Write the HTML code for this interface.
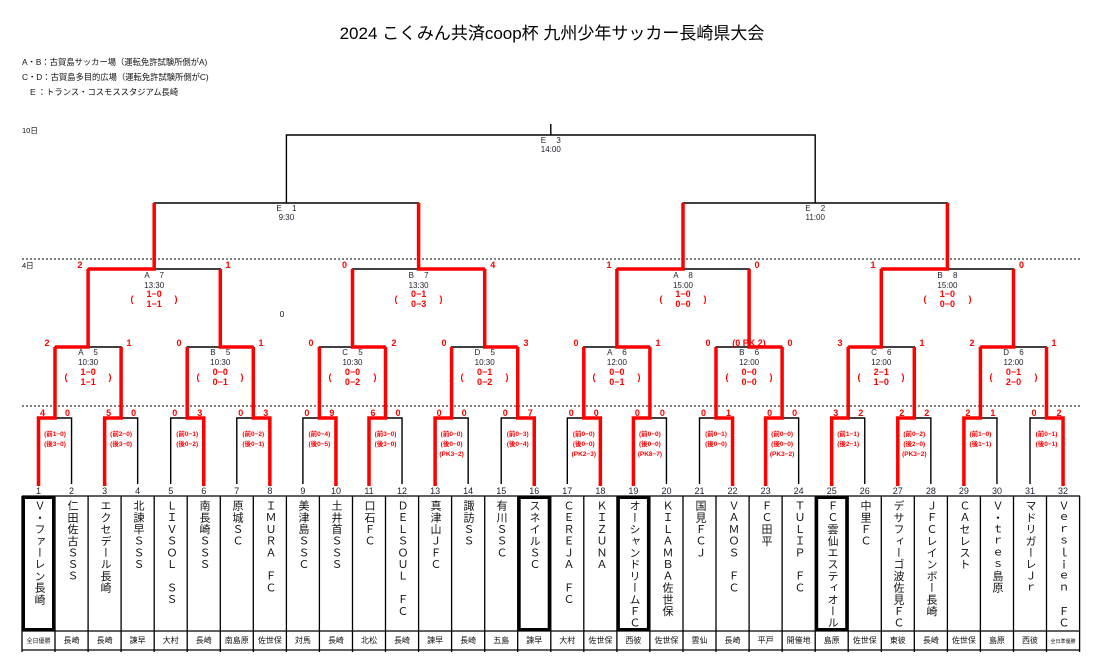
<!DOCTYPE html>
<html><head><meta charset="utf-8"><style>
body{margin:0;background:#fff;}
#w{position:relative;width:1095px;height:669px;overflow:hidden;font-family:"Liberation Sans","Noto Sans CJK JP",sans-serif;}
svg{position:absolute;left:0;top:0;}
.n{position:absolute;top:500px;width:33px;height:130px;writing-mode:vertical-rl;text-orientation:upright;line-height:33px;font-size:11px;letter-spacing:0.7px;color:#111;font-family:"Liberation Sans","Noto Sans CJK JP",sans-serif;}
.s{fill:#f00;font-weight:bold;font-size:9px;text-anchor:middle;}
.p{fill:#f00;font-weight:bold;font-size:6.5px;text-anchor:middle;}
.l{fill:#223;font-size:8px;text-anchor:middle;}
.t{fill:#223;font-size:9px;text-anchor:middle;}
.r{fill:#111;font-size:8px;text-anchor:middle;}
</style></head><body><div id="w">
<svg width="1095" height="669" font-family="Liberation Sans, Noto Sans CJK JP, sans-serif">
<text x="552" y="39" font-size="17" text-anchor="middle" fill="#000">2024  こくみん共済coop杯  九州少年サッカー長崎県大会</text>
<text x="22" y="65" font-size="8.3" fill="#111">A・B：古賀島サッカー場（運転免許試験所側がA)</text>
<text x="22" y="80" font-size="8.3" fill="#111">C・D：古賀島多目的広場（運転免許試験所側がC)</text>
<text x="30" y="95" font-size="8.3" fill="#111">E ：トランス・コスモススタジアム長崎</text>
<text x="22" y="133" font-size="7.5" fill="#111">10日</text>
<text x="22" y="268" font-size="7.5" fill="#111">4日</text>
<text x="282" y="317" font-size="8" fill="#111" text-anchor="middle">0</text>
<line x1="22" y1="259" x2="1080" y2="259" stroke="#000" stroke-width="1" stroke-dasharray="2,2"/>
<line x1="22" y1="406" x2="1080" y2="406" stroke="#000" stroke-width="1" stroke-dasharray="2,2"/>
<g fill="none" stroke="#000" stroke-width="1.4">
<path d="M38.5 484V418H71.55V484M104.6 484V418H137.65V484M170.7 484V418H203.75V484M236.8 484V418H269.85V484M302.9 484V418H335.95V484M369 484V418H402.05V484M435.1 484V418H468.15V484M501.2 484V418H534.25V484M567.3 484V418H600.35V484M633.4 484V418H666.45V484M699.5 484V418H732.55V484M765.6 484V418H798.65V484M831.7 484V418H864.75V484M897.8 484V418H930.85V484M963.9 484V418H996.95V484M1030 484V418H1063.05V484"/>
<path d="M55 418V347H121.1V418M187.2 418V347H253.3V418M319.4 418V347H385.5V418M451.6 418V347H517.7V418M583.8 418V347H649.9V418M716 418V347H782.1V418M848.2 418V347H914.3V418M980.4 418V347H1046.5V418"/>
<path d="M88.1 347V269H220.3V347M352.5 347V269H484.7V347M616.9 347V269H749.1V347M881.3 347V269H1013.5V347"/>
<path d="M154.2 269V203H418.6V269M683 269V203H947.4V269"/>
<path d="M286.4 203V135H815.2V203M550.8 135V124"/>
</g>
<g fill="none" stroke="#f00" stroke-width="3.5">
<path d="M38.5 486V418H55V347M104.6 486V418H121.1V347M203.75 486V418H187.2V347M269.85 486V418H253.3V347M335.95 486V418H319.4V347M369 486V418H385.5V347M435.1 486V418H451.6V347M534.25 486V418H517.7V347M600.35 486V418H583.8V347M633.4 486V418H649.9V347M732.55 486V418H716V347M765.6 486V418H782.1V347M831.7 486V418H848.2V347M897.8 486V418H914.3V347M963.9 486V418H980.4V347M1063.05 486V418H1046.5V347"/>
<path d="M55 347H88.1V269M253.3 347H220.3V269M385.5 347H352.5V269M517.7 347H484.7V269M649.9 347H616.9V269M782.1 347H749.1V269M848.2 347H881.3V269M980.4 347H1013.5V269"/>
<path d="M88.1 269H154.2V203M484.7 269H418.6V203M616.9 269H683V203M881.3 269H947.4V203"/>
</g>
<g stroke="#000" stroke-width="1.3">
<line x1="22" y1="496" x2="1080" y2="496"/><line x1="22" y1="631" x2="1080" y2="631"/><line x1="22" y1="650" x2="1080" y2="650"/>
<path d="M22 496V652M55 496V652M88.1 496V652M121.1 496V652M154.2 496V652M187.2 496V652M220.3 496V652M253.3 496V652M286.4 496V652M319.4 496V652M352.5 496V652M385.5 496V652M418.6 496V652M451.6 496V652M484.7 496V652M517.7 496V652M550.8 496V652M583.8 496V652M616.9 496V652M649.9 496V652M683 496V652M716 496V652M749.1 496V652M782.1 496V652M815.2 496V652M848.2 496V652M881.3 496V652M914.3 496V652M947.4 496V652M980.4 496V652M1013.5 496V652M1046.5 496V652M1079.6 496V652"/>
</g>
<g fill="none" stroke="#000" stroke-width="3">
<rect x="23.5" y="497.5" width="30" height="132"/><rect x="519.2" y="497.5" width="30" height="132"/><rect x="618.4" y="497.5" width="30" height="132"/><rect x="816.7" y="497.5" width="30" height="132"/>
</g>
<g>
<text x="38.5" y="494" class="t">1</text><text x="71.55" y="494" class="t">2</text><text x="104.6" y="494" class="t">3</text><text x="137.65" y="494" class="t">4</text><text x="170.7" y="494" class="t">5</text><text x="203.75" y="494" class="t">6</text><text x="236.8" y="494" class="t">7</text><text x="269.85" y="494" class="t">8</text><text x="302.9" y="494" class="t">9</text><text x="335.95" y="494" class="t">10</text><text x="369" y="494" class="t">11</text><text x="402.05" y="494" class="t">12</text><text x="435.1" y="494" class="t">13</text><text x="468.15" y="494" class="t">14</text><text x="501.2" y="494" class="t">15</text><text x="534.25" y="494" class="t">16</text><text x="567.3" y="494" class="t">17</text><text x="600.35" y="494" class="t">18</text><text x="633.4" y="494" class="t">19</text><text x="666.45" y="494" class="t">20</text><text x="699.5" y="494" class="t">21</text><text x="732.55" y="494" class="t">22</text><text x="765.6" y="494" class="t">23</text><text x="798.65" y="494" class="t">24</text><text x="831.7" y="494" class="t">25</text><text x="864.75" y="494" class="t">26</text><text x="897.8" y="494" class="t">27</text><text x="930.85" y="494" class="t">28</text><text x="963.9" y="494" class="t">29</text><text x="996.95" y="494" class="t">30</text><text x="1030" y="494" class="t">31</text><text x="1063.05" y="494" class="t">32</text>
</g>
<g>
<text x="38.5" y="643" class="r" style="font-size:6px">全日優勝</text><text x="71.55" y="643" class="r">長崎</text><text x="104.6" y="643" class="r">長崎</text><text x="137.65" y="643" class="r">諫早</text><text x="170.7" y="643" class="r">大村</text><text x="203.75" y="643" class="r">長崎</text><text x="236.8" y="643" class="r">南島原</text><text x="269.85" y="643" class="r">佐世保</text><text x="302.9" y="643" class="r">対馬</text><text x="335.95" y="643" class="r">長崎</text><text x="369" y="643" class="r">北松</text><text x="402.05" y="643" class="r">長崎</text><text x="435.1" y="643" class="r">諫早</text><text x="468.15" y="643" class="r">長崎</text><text x="501.2" y="643" class="r">五島</text><text x="534.25" y="643" class="r">諫早</text><text x="567.3" y="643" class="r">大村</text><text x="600.35" y="643" class="r">佐世保</text><text x="633.4" y="643" class="r">西彼</text><text x="666.45" y="643" class="r">佐世保</text><text x="699.5" y="643" class="r">雲仙</text><text x="732.55" y="643" class="r">長崎</text><text x="765.6" y="643" class="r">平戸</text><text x="798.65" y="643" class="r">開催地</text><text x="831.7" y="643" class="r">島原</text><text x="864.75" y="643" class="r">佐世保</text><text x="897.8" y="643" class="r">東彼</text><text x="930.85" y="643" class="r">長崎</text><text x="963.9" y="643" class="r">佐世保</text><text x="996.95" y="643" class="r">島原</text><text x="1030" y="643" class="r">西彼</text><text x="1063.05" y="643" class="r" style="font-size:5px">全日準優勝</text>
</g>
<g>
<text x="42.5" y="416" class="s">4</text><text x="67.5" y="416" class="s">0</text>
<text x="108.6" y="416" class="s">5</text><text x="133.6" y="416" class="s">0</text>
<text x="174.7" y="416" class="s">0</text><text x="199.7" y="416" class="s">3</text>
<text x="240.8" y="416" class="s">0</text><text x="265.8" y="416" class="s">3</text>
<text x="306.9" y="416" class="s">0</text><text x="331.9" y="416" class="s">9</text>
<text x="373" y="416" class="s">6</text><text x="398" y="416" class="s">0</text>
<text x="439.1" y="416" class="s">0</text><text x="464.1" y="416" class="s">0</text>
<text x="505.2" y="416" class="s">0</text><text x="530.2" y="416" class="s">7</text>
<text x="571.3" y="416" class="s">0</text><text x="596.3" y="416" class="s">0</text>
<text x="637.4" y="416" class="s">0</text><text x="662.4" y="416" class="s">0</text>
<text x="703.5" y="416" class="s">0</text><text x="728.5" y="416" class="s">1</text>
<text x="769.6" y="416" class="s">0</text><text x="794.6" y="416" class="s">0</text>
<text x="835.7" y="416" class="s">3</text><text x="860.7" y="416" class="s">2</text>
<text x="901.8" y="416" class="s">2</text><text x="926.8" y="416" class="s">2</text>
<text x="967.9" y="416" class="s">2</text><text x="992.9" y="416" class="s">1</text>
<text x="1034" y="416" class="s">0</text><text x="1059" y="416" class="s">2</text>
</g>
<g>
<text x="55" y="436" class="p">(前1−0)</text><text x="55" y="446" class="p">(後3−0)</text>
<text x="121.1" y="436" class="p">(前2−0)</text><text x="121.1" y="446" class="p">(後3−0)</text>
<text x="187.2" y="436" class="p">(前0−1)</text><text x="187.2" y="446" class="p">(後0−2)</text>
<text x="253.3" y="436" class="p">(前0−2)</text><text x="253.3" y="446" class="p">(後0−1)</text>
<text x="319.4" y="436" class="p">(前0−4)</text><text x="319.4" y="446" class="p">(後0−5)</text>
<text x="385.5" y="436" class="p">(前3−0)</text><text x="385.5" y="446" class="p">(後3−0)</text>
<text x="451.6" y="436" class="p">(前0−0)</text><text x="451.6" y="446" class="p">(後0−0)</text><text x="451.6" y="456" class="p">(PK3−2)</text>
<text x="517.7" y="436" class="p">(前0−3)</text><text x="517.7" y="446" class="p">(後0−4)</text>
<text x="583.8" y="436" class="p">(前0−0)</text><text x="583.8" y="446" class="p">(後0−0)</text><text x="583.8" y="456" class="p">(PK2−3)</text>
<text x="649.9" y="436" class="p">(前0−0)</text><text x="649.9" y="446" class="p">(後0−0)</text><text x="649.9" y="456" class="p">(PK8−7)</text>
<text x="716" y="436" class="p">(前0−1)</text><text x="716" y="446" class="p">(後0−0)</text>
<text x="782.1" y="436" class="p">(前0−0)</text><text x="782.1" y="446" class="p">(後0−0)</text><text x="782.1" y="456" class="p">(PK3−2)</text>
<text x="848.2" y="436" class="p">(前1−1)</text><text x="848.2" y="446" class="p">(後2−1)</text>
<text x="914.3" y="436" class="p">(前0−2)</text><text x="914.3" y="446" class="p">(後2−0)</text><text x="914.3" y="456" class="p">(PK3−2)</text>
<text x="980.4" y="436" class="p">(前1−0)</text><text x="980.4" y="446" class="p">(後1−1)</text>
<text x="1046.5" y="436" class="p">(前0−1)</text><text x="1046.5" y="446" class="p">(後0−1)</text>
</g>
<g>
<text x="47" y="346" class="s">2</text><text x="129" y="346" class="s">1</text>
<text x="179" y="346" class="s">0</text><text x="261" y="346" class="s">1</text>
<text x="311" y="346" class="s">0</text><text x="394" y="346" class="s">2</text>
<text x="444" y="346" class="s">0</text><text x="526" y="346" class="s">3</text>
<text x="576" y="346" class="s">0</text><text x="658" y="346" class="s">1</text>
<text x="708" y="346" class="s">0</text><text x="790" y="346" class="s">0</text><text x="749" y="346" class="s">(0 PK 2)</text>
<text x="840" y="346" class="s">3</text><text x="922" y="346" class="s">1</text>
<text x="972" y="346" class="s">2</text><text x="1054" y="346" class="s">1</text>
</g>
<g>
<text x="88.1" y="355" class="l">A　 5</text><text x="88.1" y="365" class="l">10:30</text><text x="88.1" y="375" class="s">1−0</text><text x="88.1" y="385" class="s">1−1</text><text x="66" y="380" class="s">(</text><text x="110" y="380" class="s">)</text>
<text x="220.3" y="355" class="l">B　 5</text><text x="220.3" y="365" class="l">10:30</text><text x="220.3" y="375" class="s">0−0</text><text x="220.3" y="385" class="s">0−1</text><text x="198" y="380" class="s">(</text><text x="242" y="380" class="s">)</text>
<text x="352.5" y="355" class="l">C　 5</text><text x="352.5" y="365" class="l">10:30</text><text x="352.5" y="375" class="s">0−0</text><text x="352.5" y="385" class="s">0−2</text><text x="330" y="380" class="s">(</text><text x="375" y="380" class="s">)</text>
<text x="484.7" y="355" class="l">D　 5</text><text x="484.7" y="365" class="l">10:30</text><text x="484.7" y="375" class="s">0−1</text><text x="484.7" y="385" class="s">0−2</text><text x="462" y="380" class="s">(</text><text x="507" y="380" class="s">)</text>
<text x="616.9" y="355" class="l">A　 6</text><text x="616.9" y="365" class="l">12:00</text><text x="616.9" y="375" class="s">0−0</text><text x="616.9" y="385" class="s">0−1</text><text x="594" y="380" class="s">(</text><text x="639" y="380" class="s">)</text>
<text x="749.1" y="355" class="l">B　 6</text><text x="749.1" y="365" class="l">12:00</text><text x="749.1" y="375" class="s">0−0</text><text x="749.1" y="385" class="s">0−0</text><text x="727" y="380" class="s">(</text><text x="771" y="380" class="s">)</text>
<text x="881.3" y="355" class="l">C　 6</text><text x="881.3" y="365" class="l">12:00</text><text x="881.3" y="375" class="s">2−1</text><text x="881.3" y="385" class="s">1−0</text><text x="859" y="380" class="s">(</text><text x="903" y="380" class="s">)</text>
<text x="1013.5" y="355" class="l">D　 6</text><text x="1013.5" y="365" class="l">12:00</text><text x="1013.5" y="375" class="s">0−1</text><text x="1013.5" y="385" class="s">2−0</text><text x="991" y="380" class="s">(</text><text x="1036" y="380" class="s">)</text>
</g>
<g>
<text x="80" y="268" class="s">2</text><text x="228" y="268" class="s">1</text>
<text x="344.5" y="268" class="s">0</text><text x="492.7" y="268" class="s">4</text>
<text x="609" y="268" class="s">1</text><text x="757" y="268" class="s">0</text>
<text x="873" y="268" class="s">1</text><text x="1021.5" y="268" class="s">0</text>
<text x="154.2" y="278" class="l">A　 7</text><text x="154.2" y="288" class="l">13:30</text><text x="154.2" y="297" class="s">1−0</text><text x="154.2" y="307" class="s">1−1</text><text x="132" y="302" class="s">(</text><text x="176" y="302" class="s">)</text>
<text x="418.6" y="278" class="l">B　 7</text><text x="418.6" y="288" class="l">13:30</text><text x="418.6" y="297" class="s">0−1</text><text x="418.6" y="307" class="s">0−3</text><text x="396" y="302" class="s">(</text><text x="441" y="302" class="s">)</text>
<text x="683" y="278" class="l">A　 8</text><text x="683" y="288" class="l">15:00</text><text x="683" y="297" class="s">1−0</text><text x="683" y="307" class="s">0−0</text><text x="661" y="302" class="s">(</text><text x="705" y="302" class="s">)</text>
<text x="947.4" y="278" class="l">B　 8</text><text x="947.4" y="288" class="l">15:00</text><text x="947.4" y="297" class="s">1−0</text><text x="947.4" y="307" class="s">0−0</text><text x="925" y="302" class="s">(</text><text x="970" y="302" class="s">)</text>
</g>
<g>
<text x="286.4" y="211" class="l">E　 1</text><text x="286.4" y="220" class="l">9:30</text>
<text x="815.2" y="211" class="l">E　 2</text><text x="815.2" y="220" class="l">11:00</text>
<text x="550.8" y="143" class="l">E　 3</text><text x="550.8" y="152" class="l">14:00</text>
</g>
</svg>
<div class="n" style="left:22px">Ｖ・ファーレン長崎</div>
<div class="n" style="left:55px">仁田佐古ＳＳＳ</div>
<div class="n" style="left:88px">エクセデール長崎</div>
<div class="n" style="left:121px">北諫早ＳＳＳ</div>
<div class="n" style="left:154px">ＬＩＶＳＯＬ　ＳＳ</div>
<div class="n" style="left:187px">南長崎ＳＳＳ</div>
<div class="n" style="left:220px">原城ＳＣ</div>
<div class="n" style="left:253px">ＩＭＵＲＡ　ＦＣ</div>
<div class="n" style="left:286px">美津島ＳＳＣ</div>
<div class="n" style="left:319px">土井首ＳＳＳ</div>
<div class="n" style="left:352px">口石ＦＣ</div>
<div class="n" style="left:385px">ＤＥＬＳＯＵＬ　ＦＣ</div>
<div class="n" style="left:418px">真津山ＪＦＣ</div>
<div class="n" style="left:451px">諏訪ＳＳ</div>
<div class="n" style="left:484px">有川ＳＳＣ</div>
<div class="n" style="left:517px">スネイルＳＣ</div>
<div class="n" style="left:551px">ＣＥＲＥＪＡ　ＦＣ</div>
<div class="n" style="left:584px">ＫＩＺＵＮＡ</div>
<div class="n" style="left:617px">オーシャンドリームＦＣ</div>
<div class="n" style="left:650px">ＫＩＬＡＭＢＡ佐世保</div>
<div class="n" style="left:683px">国見ＦＣＪ</div>
<div class="n" style="left:716px">ＶＡＭＯＳ　ＦＣ</div>
<div class="n" style="left:749px">ＦＣ田平</div>
<div class="n" style="left:782px">ＴＵＬＩＰ　ＦＣ</div>
<div class="n" style="left:815px">ＦＣ雲仙エスティオール</div>
<div class="n" style="left:848px">中里ＦＣ</div>
<div class="n" style="left:881px">デサフィーゴ波佐見ＦＣ</div>
<div class="n" style="left:914px">ＪＦＣレインボー長崎</div>
<div class="n" style="left:947px">ＣＡセレスト</div>
<div class="n" style="left:980px">Ｖ・ｔｒｅｓ島原</div>
<div class="n" style="left:1013px">マドリガーレＪｒ</div>
<div class="n" style="left:1046px">Ｖｅｒｓｌｉｅｎ　ＦＣ</div>
</div></body></html>
